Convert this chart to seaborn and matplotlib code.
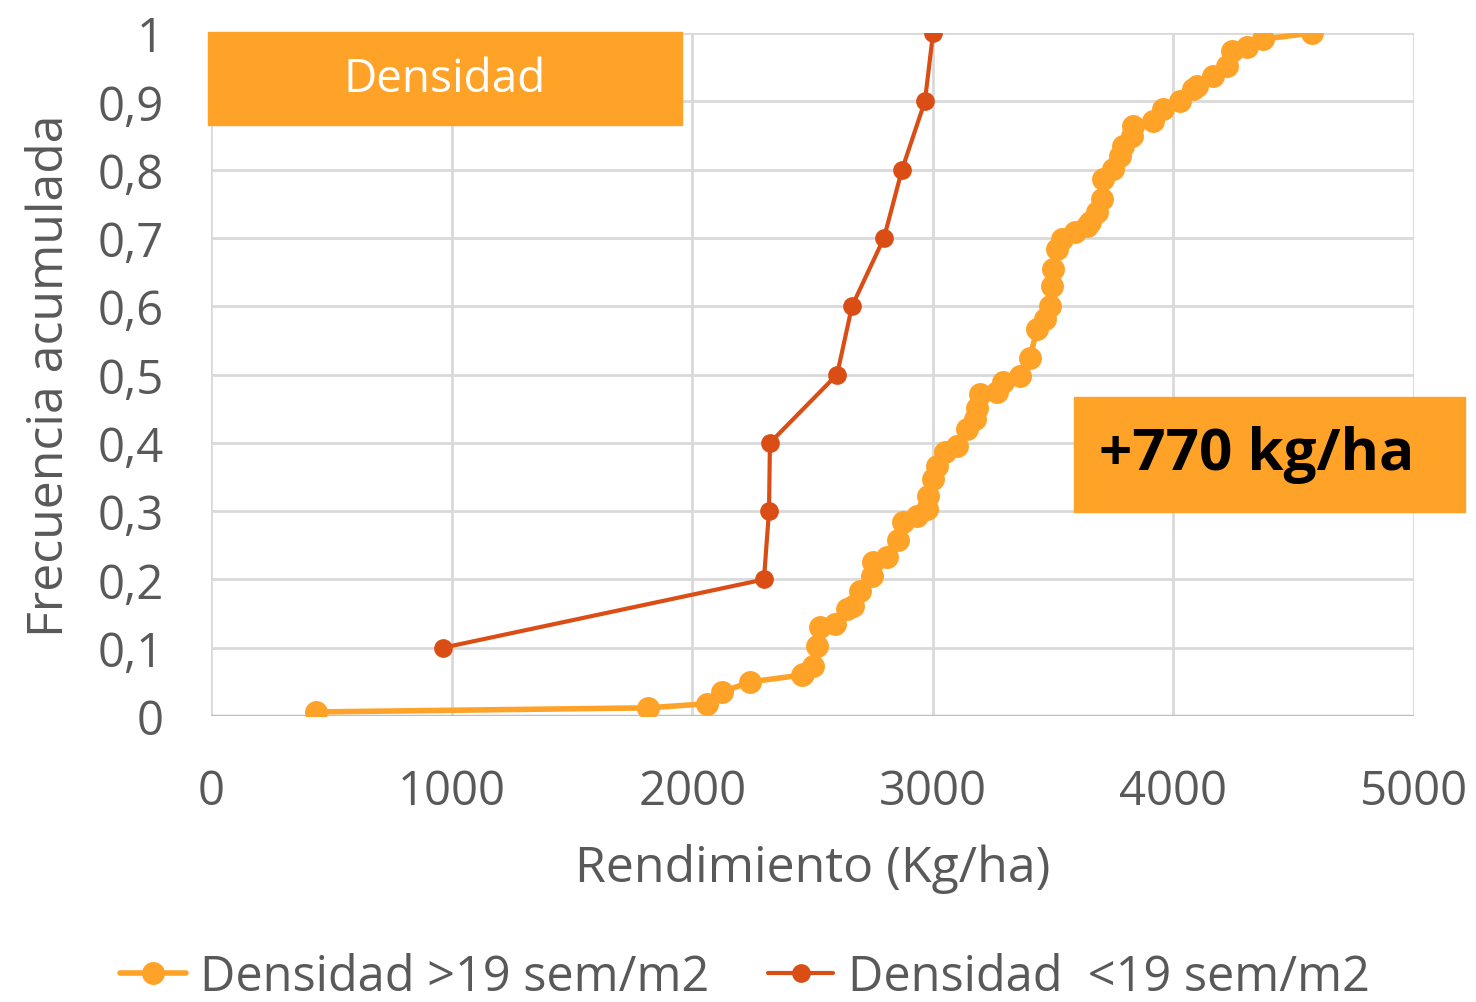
import seaborn as sns
import matplotlib.pyplot as plt
import pandas as pd
from matplotlib.patches import Rectangle

# rendimiento (kg/ha) y frecuencia acumulada
alta_x = [436, 1816, 2061, 2124, 2240, 2456, 2460, 2502, 2519, 2531, 2594, 2643, 2668, 2697,
          2697, 2747, 2751, 2810, 2855, 2855, 2876, 2934, 2976, 2980, 3001, 3017, 3051, 3101,
          3142, 3175, 3184, 3184, 3196, 3267, 3292, 3362, 3404, 3404, 3433, 3466, 3487, 3495,
          3500, 3516, 3537, 3591, 3641, 3653, 3682, 3703, 3707, 3749, 3778, 3791, 3828, 3832,
          3915, 3957, 4027, 4081, 4098, 4165, 4223, 4244, 4306, 4372, 4576]
alta_y = [0.006, 0.012, 0.018, 0.035, 0.05, 0.06, 0.061, 0.073, 0.102, 0.13, 0.135, 0.157,
          0.161, 0.171, 0.196, 0.205, 0.225, 0.233, 0.249, 0.266, 0.284, 0.293, 0.303, 0.322,
          0.347, 0.366, 0.387, 0.395, 0.42, 0.435, 0.439, 0.464, 0.471, 0.474, 0.489, 0.498,
          0.512, 0.537, 0.567, 0.581, 0.6, 0.63, 0.654, 0.684, 0.698, 0.709, 0.717, 0.723,
          0.738, 0.757, 0.786, 0.801, 0.82, 0.835, 0.849, 0.864, 0.871, 0.889, 0.9, 0.918,
          0.922, 0.937, 0.952, 0.974, 0.98, 0.991, 1.0]

baja_x = [964, 2298, 2319, 2323, 2602, 2664, 2797, 2872, 2967, 3001]
baja_y = [0.1, 0.2, 0.3, 0.4, 0.5, 0.6, 0.7, 0.8, 0.9, 1.0]

x_ticks = [0, 1000, 2000, 3000, 4000, 5000]
y_ticks = [0, 0.1, 0.2, 0.3, 0.4, 0.5, 0.6, 0.7, 0.8, 0.9, 1]

naranja = '#FFA228'
rojo = '#DA4E16'
gris = '#595959'

sns.set_style('white')
plt.rcParams['font.family'] = ['Open Sans', 'DejaVu Sans']

df_alta = pd.DataFrame({'x': alta_x, 'y': alta_y})
df_baja = pd.DataFrame({'x': baja_x, 'y': baja_y})

fig = plt.figure(figsize=(14.76, 10.03), dpi=100)
ax = fig.add_axes([0.143, 0.2851, 0.815, 0.681])

sns.lineplot(data=df_alta, x='x', y='y', sort=False, color=naranja, lw=4, marker='o',
             markersize=16.5, markeredgewidth=0, label='Densidad >19 sem/m2', ax=ax, zorder=3)
sns.lineplot(data=df_baja, x='x', y='y', sort=False, color=rojo, lw=3, marker='o',
             markersize=13.5, markeredgewidth=0, label='Densidad  <19 sem/m2', ax=ax, zorder=4)

ax.set_xlim(0, 5000)
ax.set_ylim(0, 1)
ax.set_xticks(x_ticks)
ax.set_yticks(y_ticks)
ax.set_yticklabels([('%g' % v).replace('.', ',') for v in y_ticks])
ax.grid(True, color='#d9d9d9', lw=2)
for s in ax.spines.values():
    s.set_visible(False)
ax.axhline(0, color='#bfbfbf', lw=2.5, zorder=2)
ax.tick_params(axis='both', labelsize=34, colors=gris, length=0)
ax.tick_params(axis='x', pad=37)
ax.tick_params(axis='y', pad=34)
ax.set_xlabel('Rendimiento (Kg/ha)', fontsize=36, color=gris, labelpad=20)
ax.set_ylabel('Frecuencia acumulada', fontsize=36, color=gris, labelpad=16)

leg = ax.legend(loc='center', bbox_to_anchor=(745 / 1476, 1 - 978 / 1003),
                bbox_transform=fig.transFigure, ncol=2, frameon=False, fontsize=35,
                handlelength=1.35, handletextpad=0.3, columnspacing=1.2)
for t in leg.get_texts():
    t.set_color(gris)

# cajas de texto
fig.patches.append(Rectangle((208 / 1476, 1 - 126 / 1003), 474 / 1476, 93 / 1003,
                             transform=fig.transFigure, color=naranja, zorder=5))
fig.text(445 / 1476, 1 - 80 / 1003, 'Densidad', color='white', fontsize=33,
         ha='center', va='center', zorder=6)
fig.patches.append(Rectangle((1074 / 1476, 1 - 513 / 1003), 391 / 1476, 115 / 1003,
                             transform=fig.transFigure, color=naranja, zorder=5))
fig.text(1257 / 1476, 1 - 455 / 1003, '+770 kg/ha', color='black', fontsize=42,
         fontweight='bold', ha='center', va='center', zorder=6)

fig.savefig('out.png', dpi=100)
